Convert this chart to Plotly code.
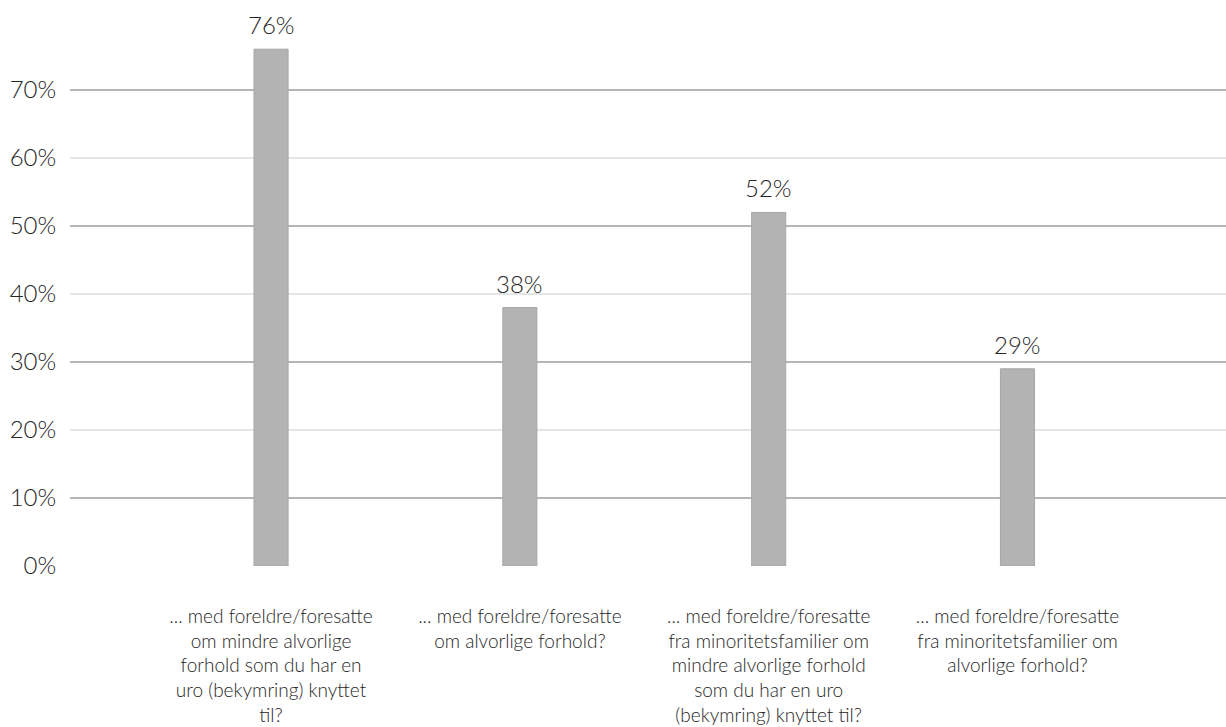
import plotly.graph_objects as go

categories = [
    "... med foreldre/foresatte om mindre alvorlige forhold som du har en uro (bekymring) knyttet til?",
    "... med foreldre/foresatte om alvorlige forhold?",
    "... med foreldre/foresatte fra minoritetsfamilier om mindre alvorlige forhold som du har en uro (bekymring) knyttet til?",
    "... med foreldre/foresatte fra minoritetsfamilier om alvorlige forhold?",
]
tick_labels = [
    "... med foreldre/foresatte<br>om mindre alvorlige<br>forhold som du har en<br>uro (bekymring) knyttet<br>til?",
    "... med foreldre/foresatte<br>om alvorlige forhold?",
    "... med foreldre/foresatte<br>fra minoritetsfamilier om<br>mindre alvorlige forhold<br>som du har en uro<br>(bekymring) knyttet til?",
    "... med foreldre/foresatte<br>fra minoritetsfamilier om<br>alvorlige forhold?",
]
values = [76, 38, 52, 29]
y_ticks = [0, 10, 20, 30, 40, 50, 60, 70]
dark_grid = [10, 30, 50, 70]

FONT = "Lato"
TXT = "#262626"

fig = go.Figure()
fig.add_trace(go.Bar(
    x=categories, y=values, width=0.137,
    marker=dict(color="#b3b3b3", line=dict(color="#a6a6a6", width=1)),
    hoverinfo="skip", showlegend=False,
))
# invisible helper trace to activate the overlay axis with darker gridlines
fig.add_trace(go.Scatter(
    x=[categories[0]], y=[0], yaxis="y2", mode="markers",
    marker=dict(opacity=0), hoverinfo="skip", showlegend=False,
))
for c, v in zip(categories, values):
    fig.add_annotation(x=c, y=v, text=f"{v}%", showarrow=False,
                       yanchor="bottom", yshift=8,
                       font=dict(family=FONT, size=24, color=TXT, weight=300))

fig.update_layout(
    width=1226, height=727,
    margin=dict(l=70, r=0, t=22, b=161),
    paper_bgcolor="white", plot_bgcolor="white",
    font=dict(family=FONT, color=TXT, weight=300),
    xaxis=dict(
        type="category", range=[-0.808, 3.838], automargin=False,
        tickmode="array", tickvals=categories, ticktext=tick_labels,
        tickfont=dict(family=FONT, size=19, color=TXT, weight=300),
        showgrid=False, zeroline=False, showline=False,
        ticks="outside", ticklen=33, tickcolor="rgba(0,0,0,0)",
    ),
    yaxis=dict(
        range=[0, 80], tickmode="array", tickvals=y_ticks, automargin=False,
        ticktext=[f"{t}%" for t in y_ticks],
        tickfont=dict(family=FONT, size=24, color=TXT, weight=300),
        showgrid=True, gridcolor="#e3e6e6", gridwidth=1.5,
        zeroline=False, showline=False,
        ticks="outside", ticklen=8, tickcolor="rgba(0,0,0,0)",
    ),
    yaxis2=dict(
        overlaying="y", side="left", range=[0, 80], automargin=False,
        tickmode="array", tickvals=dark_grid, showticklabels=False,
        showgrid=True, gridcolor="#b5b5b5", gridwidth=1.5,
        zeroline=False, showline=False, ticks="",
    ),
)

fig.write_html(
    "out.html",
    config={"displayModeBar": False},
    post_script="document.body.style.margin='0';document.body.style.overflow='hidden';",
)
